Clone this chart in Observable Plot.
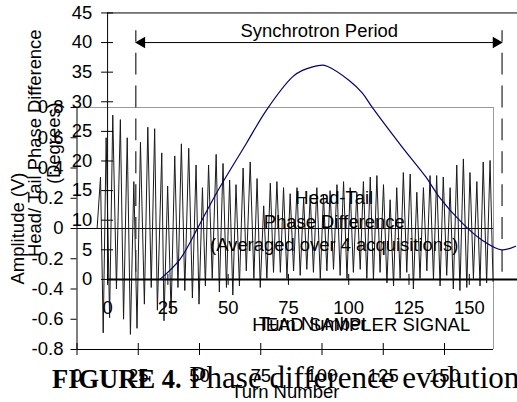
<!DOCTYPE html>
<html><head><meta charset="utf-8">
<script src="https://cdn.jsdelivr.net/npm/d3@7"></script>
<script src="https://cdn.jsdelivr.net/npm/@observablehq/plot@0.6"></script>
<style>
html,body{margin:0;padding:0;background:#fff;overflow:hidden}
#wrap{position:relative;width:517px;height:402px;overflow:hidden;background:#fff}
#wrap > svg{position:absolute;left:0;top:0}
#caption{position:absolute;left:52px;top:362px;white-space:nowrap;font-family:"Liberation Serif","Times New Roman",serif;font-size:31px;line-height:31px;color:#000}
</style></head><body><div id="wrap"></div>
<script>
// ---- Head sampler signal (chart B): extrema ----
const signalTurn = [8.2, 9.6, 10.7, 11.9, 13.3, 14.6, 16.1, 17.7, 19.0, 20.5,
  21.8, 23.2, 24.5, 25.9, 27.5, 28.9, 30.3, 31.7, 32.8, 34.6,
  35.5, 37.0, 38.4, 39.9, 41.2, 42.6, 44.0, 45.6, 47.1, 48.6,
  49.8, 51.2, 52.4, 53.7, 55.2, 56.8, 58.1, 59.6, 61.0, 62.3,
  63.6, 64.9, 66.3, 67.8, 69.1, 70.7, 72.2, 73.5, 74.8, 76.2,
  77.5, 78.9, 80.2, 81.6, 83.0, 84.3, 85.7, 87.0, 88.4, 89.8,
  91.1, 92.5, 93.8, 95.2, 96.5, 97.9, 99.3, 100.6, 102.0, 103.3,
  104.7, 106.1, 107.4, 108.8, 110.2, 111.5, 112.8, 114.2, 115.6, 116.9,
  118.3, 119.7, 121.0, 122.4, 123.7, 125.1, 126.5, 127.8, 129.2, 130.5,
  131.9, 133.2, 134.6, 136.0, 137.3, 138.7, 140.0, 141.4, 142.8, 144.1,
  145.5, 146.8, 148.2, 149.5, 150.9, 152.3, 153.6, 155.0, 156.3, 157.7,
  159.1, 160.4, 161.8, 163.2, 164.5, 165.8, 167.2, 168.6, 169.8];
const signalAmp = [0, 0.34, -0.69, 0.60, -0.59, 0.75, -0.40, 0.72, -0.60, 0.60,
  -0.70, 0.31, -0.66, 0.57, -0.50, 0.67, -0.39, 0.66, -0.54, 0.50,
  -0.61, 0.28, -0.56, 0.48, -0.39, 0.56, -0.41, 0.53, -0.46, 0.42,
  -0.50, 0.27, -0.38, 0.42, -0.33, 0.49, -0.42, 0.43, -0.39, 0.32,
  -0.44, 0.29, -0.38, 0.40, -0.28, 0.44, -0.33, 0.33, -0.39, 0.15,
  -0.33, 0.30, -0.29, 0.31, -0.29, 0.27, -0.33, 0.23, -0.28, 0.27,
  -0.31, 0.20, -0.27, 0.22, -0.29, 0.27, -0.33, 0.22, -0.28, 0.25,
  -0.27, 0.29, -0.31, 0.31, -0.33, 0.27, -0.29, 0.24, -0.27, 0.31,
  -0.33, 0.34, -0.34, 0.35, -0.29, 0.29, -0.36, 0.19, -0.38, 0.27,
  -0.33, 0.37, -0.29, 0.36, -0.40, 0.24, -0.33, 0.27, -0.28, 0.35,
  -0.34, 0.35, -0.38, 0.34, -0.31, 0.27, -0.40, 0.42, -0.41, 0.46,
  -0.39, 0.37, -0.33, 0.31, -0.38, 0.44, -0.36, 0.45, -0.35];

// ---- Head/tail phase difference (chart A) ----
const phaseTurn = [21.7, 30.0, 37.4, 45.2, 57.6, 65.9, 76.7, 80.8, 89.0, 91.1,
  100.2, 105.6, 109.7, 122.1, 132.0, 137.4, 146.9, 155.1, 163.4, 169.2];
const phaseDeg = [0, 3.4, 8.7, 14.6, 23.0, 28.6, 34.2, 35.3, 36.2, 36.0,
  33.6, 31.5, 29.1, 22.4, 17.3, 14.0, 9.6, 6.7, 5.0, 5.6];

// synchrotron period markers (turns, chart A) and annotation anchors
const periodTurns = [11.7, 163.6];
const periodArrowDeg = 40;
const periodDashDeg = [1.2, 42];
const periodLabel = {turn: 87.8, deg: 42, text: "Synchrotron Period"};
const phaseNote = {turn: 94, deg: 10, text: "Head-Tail\nPhase Difference\n(Averaged over 4 acquisitions)"};

// ticks and labels
const ampTicks = [-0.8, -0.6, -0.4, -0.2, 0, 0.2, 0.4, 0.6, 0.8];
const degTicks = [0, 5, 10, 15, 20, 25, 30, 35, 40, 45];
const turnTicks = [0, 25, 50, 75, 100, 125, 150];
const ampTitle = "Amplitude (V)";
const degTitle = "Head/ Tail Phase Difference\n(Degrees)";
const turnTitle = "Turn Number";
const signalTitle = "HEAD SAMPLER SIGNAL";

const signal = signalTurn.map((t, i) => ({turn: t, amp: signalAmp[i]}));
const phase = phaseTurn.map((t, i) => ({turn: t, deg: phaseDeg[i]}));

const font = "'Liberation Sans', Arial, Helvetica, sans-serif";
const fmtAmp = d => (d === 0 ? "0" : d.toFixed(1));

const chartB = Plot.plot({
  width: 517, height: 402,
  marginLeft: 76.5, marginRight: 24, marginTop: 107, marginBottom: 53,
  style: {background: "white", fontFamily: font, fontSize: "18.5px", color: "black"},
  x: {domain: [0, 170]},
  y: {domain: [-0.8, 0.8]},
  marks: [
    Plot.ruleY([0.8], {stroke: "#9a9a9a"}),
    Plot.ruleX([170], {stroke: "#9a9a9a"}),
    Plot.ruleY([0], {stroke: "black"}),
    Plot.line(signal, {x: "turn", y: "amp", stroke: "#1a1a1a", strokeWidth: 1}),
    Plot.ruleX([0], {stroke: "black"}),
    Plot.ruleY([-0.8], {stroke: "black"}),
    Plot.axisY({ticks: ampTicks, tickSize: 6, tickPadding: 7.5, tickFormat: fmtAmp, label: null}),
    Plot.axisX({ticks: turnTicks, tickSize: 12, dy: -6, fill: "none", label: null}),
    Plot.axisX({ticks: turnTicks, tickSize: 6, tickPadding: 13, stroke: "none", label: null}),
    Plot.text([ampTitle], {frameAnchor: "left", rotate: -90, dx: -58.5, textAnchor: "middle", lineAnchor: "middle"}),
    Plot.text([turnTitle], {frameAnchor: "bottom", dy: 43, textAnchor: "middle", lineAnchor: "middle"}),
    Plot.text([signalTitle], {frameAnchor: "bottom", dx: 76, dy: -24, textAnchor: "middle", lineAnchor: "middle"})
  ]
});

const chartA = Plot.plot({
  width: 519, height: 402,
  marginLeft: 107.5, marginRight: 0, marginTop: 12.5, marginBottom: 122,
  style: {background: "transparent", fontFamily: font, fontSize: "18.5px", color: "black"},
  x: {domain: [0, 170]},
  y: {domain: [0, 45]},
  marks: [
    Plot.ruleY([45], {stroke: "black"}),
    Plot.ruleX([0], {stroke: "black"}),
    Plot.ruleX(periodTurns, {y1: periodDashDeg[0], y2: periodDashDeg[1], stroke: "#333", strokeWidth: 1.3, strokeDasharray: "22,11"}),
    Plot.link([periodTurns], {x1: d => d[0], x2: d => d[1], y1: periodArrowDeg, y2: periodArrowDeg, stroke: "black"}),
    Plot.dot([periodTurns[1]], {x: d => d, y: periodArrowDeg, symbol: "triangle", r: 4.3, fill: "black", stroke: "none", rotate: 90, dx: -6}),
    Plot.dot([periodTurns[0]], {x: d => d, y: periodArrowDeg, symbol: "triangle", r: 4.3, fill: "black", stroke: "none", rotate: -90, dx: 6}),
    Plot.text([periodLabel], {x: "turn", y: "deg", text: "text"}),
    Plot.line(phase, {x: "turn", y: "deg", stroke: "#00007a", strokeWidth: 1.2, curve: "catmull-rom"}),
    Plot.ruleY([0], {stroke: "black", strokeWidth: 2}),
    Plot.axisY({ticks: degTicks, tickSize: 12, dx: 6, fill: "none", label: null}),
    Plot.axisY({ticks: degTicks, tickSize: 6, tickPadding: 9.5, stroke: "none", label: null}),
    Plot.axisX({ticks: turnTicks, tickSize: 11, dy: -5, fill: "none", label: null}),
    Plot.axisX({ticks: turnTicks, tickSize: 6, tickPadding: 16, stroke: "none", label: null}),
    Plot.text([turnTitle], {frameAnchor: "bottom", dy: 45, textAnchor: "middle", lineAnchor: "middle"}),
    Plot.text([degTitle], {frameAnchor: "left", rotate: -90, dx: -63, dy: -3, textAnchor: "middle", lineAnchor: "middle", lineHeight: 1.03}),
    Plot.text([phaseNote], {x: "turn", y: "deg", text: "text", lineHeight: 1.27})
  ]
});

const wrap = document.getElementById("wrap");
wrap.appendChild(chartB);
wrap.appendChild(chartA);
const cap = document.createElement("div");
cap.id = "caption";
cap.innerHTML = '<b style="font-size:26.5px">FIGURE 4.</b><span> Phase difference evolution</span>';
wrap.appendChild(cap);
</script></body></html>
